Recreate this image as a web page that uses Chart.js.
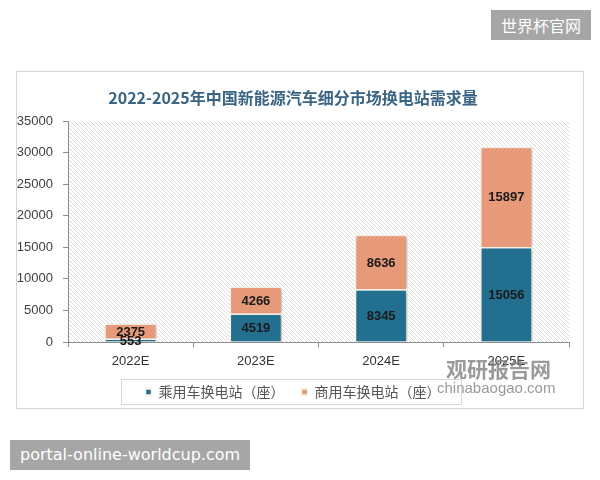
<!DOCTYPE html>
<html>
<head>
<meta charset="utf-8">
<script src="https://cdn.jsdelivr.net/npm/chart.js@4.4.1/dist/chart.umd.min.js"></script>
<style>
  html, body { margin: 0; padding: 0; background: #fff; }
  body { width: 600px; height: 480px; position: relative; overflow: hidden; font-family: "Noto Sans CJK SC", sans-serif; }
  #frame { position: absolute; left: 16px; top: 71px; width: 566px; height: 336px; border: 1px solid #d6d6d6; }
  #chart { display: block; }
  .tag { position: absolute; background: #a6a6a6; color: #fff; font-size: 16px; line-height: 30px; padding: 0 10px; }
  .mark { position: absolute; color: rgba(120,120,120,0.75); font-weight: bold; white-space: nowrap; }
</style>
</head>
<body>
<div id="frame"><canvas id="chart" width="566" height="336"></canvas></div>
<div class="tag" style="left:491px; top:10px;">世界杯官网</div>
<div class="tag" style="left:10px; top:440px; font-family:'DejaVu Sans',sans-serif;">portal-online-worldcup.com</div>
<div class="mark" style="left:446px; top:353px; font-size:21px;">观研报告网</div>
<div class="mark" style="left:437px; top:379px; font-size:15px; font-weight:normal; font-family:'Liberation Sans',sans-serif;">chinabaogao.com</div>
<script>
// 年份
const years = ['2022E', '2023E', '2024E', '2025E'];
// 乘用车换电站（座）
const passengerStations = [553, 4519, 8345, 15056];
// 商用车换电站（座）
const commercialStations = [2375, 4266, 8636, 15897];
const yTicks = [0, 5000, 10000, 15000, 20000, 25000, 30000, 35000];

// diagonal hatch for the plot background
function makeHatch() {
    var c = document.createElement('canvas');
    c.width = 4; c.height = 4;
    var g = c.getContext('2d');
    g.fillStyle = '#ffffff';
    g.fillRect(0, 0, 4, 4);
    g.strokeStyle = '#dcdcdc';
    g.lineWidth = 1;
    g.beginPath();
    g.moveTo(-1, -1); g.lineTo(5, 5);
    g.moveTo(-1, 3); g.lineTo(1, 5);
    g.moveTo(3, -1); g.lineTo(5, 1);
    g.stroke();
    return c;
}

const hatchBg = {
    id: 'hatchBg',
    beforeDraw(chart) {
        const a = chart.chartArea, ctx = chart.ctx;
        ctx.save();
        ctx.fillStyle = ctx.createPattern(makeHatch(), 'repeat');
        ctx.fillRect(a.left, a.top, a.right - a.left, a.bottom - a.top);
        ctx.restore();
    }
};

const barShadow = {
    id: 'barShadow',
    beforeDatasetsDraw(chart) {
        const ctx = chart.ctx;
        ctx.save();
        ctx.shadowColor = 'rgba(0,0,0,0.22)';
        ctx.shadowBlur = 3;
        ctx.shadowOffsetX = 2;
        ctx.shadowOffsetY = 1;
    },
    afterDatasetsDraw(chart) {
        chart.ctx.restore();
    }
};

const valueLabels = {
    id: 'valueLabels',
    afterDatasetsDraw(chart) {
        const ctx = chart.ctx;
        ctx.save();
        ctx.font = 'bold 13px "Liberation Sans", Arial, sans-serif';
        ctx.fillStyle = '#1a1a1a';
        ctx.textAlign = 'center';
        ctx.textBaseline = 'middle';
        chart.data.datasets.forEach(function (ds, i) {
            chart.getDatasetMeta(i).data.forEach(function (bar, j) {
                const y = (bar.y + bar.base) / 2;
                ctx.fillText(String(ds.data[j]), bar.x, y + 1);
            });
        });
        ctx.restore();
    }
};

// keep the legend row short so the plot keeps its height
const legendFit = {
    id: 'legendFit',
    beforeLayout(chart) {
        const lg = chart.legend;
        if (lg && !lg._fitPatched) {
            const fit = lg.fit;
            lg.fit = function () { fit.call(this); this.height = 36; };
            lg._fitPatched = true;
        }
    }
};

const legendBox = {
    id: 'legendBox',
    afterDraw(chart) {
        const boxes = chart.legend.legendHitBoxes;
        if (!boxes || !boxes.length) return;
        const ctx = chart.ctx;
        let l = Infinity, r = -Infinity;
        boxes.forEach(function (b) { l = Math.min(l, b.left); r = Math.max(r, b.left + b.width); });
        const cy = boxes[0].top + boxes[0].height / 2;
        ctx.save();
        ctx.strokeStyle = '#d9d9d9';
        ctx.lineWidth = 1;
        ctx.strokeRect(Math.round(l - 25) + 0.5, Math.round(cy - 13) + 0.5, Math.round(r - l + 45), 25);
        ctx.restore();
    }
};

new Chart(document.getElementById('chart').getContext('2d'), {
    type: 'bar',
    data: {
        labels: years,
        datasets: [{
            label: '乘用车换电站（座）',
            data: passengerStations,
            backgroundColor: '#236f90',
            borderColor: '#f7f1e6',
            borderWidth: 1.5
        }, {
            label: '商用车换电站（座）',
            data: commercialStations,
            backgroundColor: '#e69a79',
            borderColor: '#f7f1e6',
            borderWidth: 1.5
        }]
    },
    options: {
        responsive: false,
        animation: false,
        layout: { padding: { left: 0, right: 14, top: 0, bottom: 4 } },
        datasets: { bar: { categoryPercentage: 1, barPercentage: 0.42 } },
        plugins: {
            title: {
                display: true,
                text: '2022-2025年中国新能源汽车细分市场换电站需求量',
                color: '#3a6483',
                font: { size: 16, weight: 'bold', family: '"Noto Sans CJK SC", sans-serif' },
                padding: { top: 16, bottom: 14 }
            },
            legend: {
                position: 'bottom',
                labels: {
                    boxWidth: 6,
                    boxHeight: 6,
                    padding: 17,
                    color: '#555555',
                    font: { size: 14, family: '"Noto Sans CJK SC", sans-serif' }
                }
            },
            tooltip: { enabled: false }
        },
        scales: {
            x: {
                stacked: true,
                grid: { display: true, drawOnChartArea: false, offset: true, tickLength: 5, color: '#8c8c8c' },
                border: { display: true, color: '#8c8c8c' },
                ticks: { color: '#333333', padding: 7, font: { size: 13, family: '"Liberation Sans", Arial, sans-serif' } },
                afterFit(scale) { scale.height = 26; }
            },
            y: {
                stacked: true,
                min: 0,
                max: 35000,
                afterBuildTicks(scale) { scale.ticks = yTicks.map(function (v) { return { value: v }; }); },
                grid: { display: true, drawOnChartArea: false, tickLength: 5, color: '#8c8c8c' },
                border: { display: true, color: '#8c8c8c' },
                ticks: {
                    color: '#404040',
                    padding: 10,
                    font: { size: 13, family: '"Liberation Sans", Arial, sans-serif' },
                    callback: function (v) { return String(v); }
                },
                afterFit(scale) { scale.width = 51; }
            }
        }
    },
    plugins: [hatchBg, barShadow, valueLabels, legendFit, legendBox]
});
</script>
</body>
</html>
